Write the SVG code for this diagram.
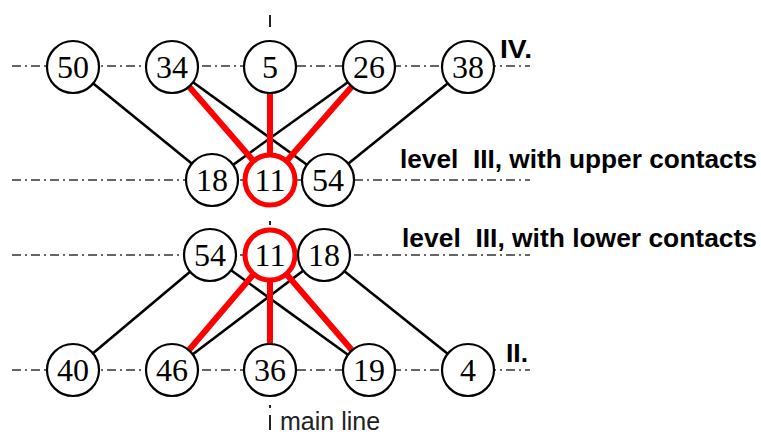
<svg xmlns="http://www.w3.org/2000/svg" width="761" height="441" viewBox="0 0 761 441">
<style>
.axis{stroke:#333;stroke-width:1.3;stroke-dasharray:9 4 2 4;fill:none}
.tick{stroke:#222;stroke-width:2;fill:none}
.blk{stroke:#000;stroke-width:2.6;fill:none}
.red{stroke:#f00;stroke-width:6;fill:none}
.node circle{fill:#fff;stroke:#000;stroke-width:2.2}
.node.hot circle{stroke:#f00;stroke-width:5}
.node text{font-family:"Liberation Serif","Times New Roman",serif;font-size:32px;text-anchor:middle;fill:#000}
.lbl{font-family:"Liberation Sans",Arial,sans-serif;font-weight:bold;font-size:25px;fill:#000;white-space:pre}
.ml{font-family:"Liberation Sans",Arial,sans-serif;font-size:25px;fill:#222}
</style>
<rect width="761" height="441" fill="#fff"/>
<g id="axes">
<line class="axis" x1="12" y1="66" x2="530" y2="66"/>
<line class="axis" x1="12" y1="180" x2="530" y2="180"/>
<line class="axis" x1="12" y1="255" x2="530" y2="255"/>
<line class="axis" x1="12" y1="370" x2="530" y2="370"/>
<line class="tick" x1="270" y1="15" x2="270" y2="27"/>
<line class="tick" x1="270" y1="221" x2="270" y2="225"/>
<line class="tick" x1="270" y1="405" x2="270" y2="408"/>
<line class="tick" x1="270" y1="415" x2="270" y2="430"/>
</g>
<g id="connectors">
<line class="blk" x1="73" y1="67" x2="212" y2="180"/>
<line class="blk" x1="172" y1="67" x2="328" y2="180"/>
<line class="blk" x1="369" y1="67" x2="212" y2="180"/>
<line class="blk" x1="468" y1="67" x2="328" y2="180"/>
<line class="blk" x1="210" y1="255" x2="73" y2="370"/>
<line class="blk" x1="210" y1="255" x2="369" y2="370"/>
<line class="blk" x1="324" y1="255" x2="172" y2="370"/>
<line class="blk" x1="324" y1="255" x2="468" y2="370"/>
<line class="red" x1="172" y1="67" x2="270" y2="180"/>
<line class="red" x1="270" y1="67" x2="270" y2="180"/>
<line class="red" x1="369" y1="67" x2="270" y2="180"/>
<line class="red" x1="270" y1="255" x2="172" y2="370"/>
<line class="red" x1="270" y1="255" x2="270" y2="370"/>
<line class="red" x1="270" y1="255" x2="369" y2="370"/>
</g>
<g id="n50" class="node"><circle cx="73" cy="67" r="26"/><text x="73" y="78">50</text></g>
<g id="n34" class="node"><circle cx="172" cy="67" r="26"/><text x="172" y="78">34</text></g>
<g id="n5" class="node"><circle cx="270" cy="67" r="26"/><text x="270" y="78">5</text></g>
<g id="n26" class="node"><circle cx="369" cy="67" r="26"/><text x="369" y="78">26</text></g>
<g id="n38" class="node"><circle cx="468" cy="67" r="26"/><text x="468" y="78">38</text></g>
<g id="u18" class="node"><circle cx="212" cy="180" r="26"/><text x="212" y="191">18</text></g>
<g id="u11" class="node hot"><circle cx="270" cy="180" r="25"/><text x="270" y="191">11</text></g>
<g id="u54" class="node"><circle cx="328" cy="180" r="26"/><text x="328" y="191">54</text></g>
<g id="l54" class="node"><circle cx="210" cy="255" r="26"/><text x="210" y="266">54</text></g>
<g id="l11" class="node hot"><circle cx="270" cy="255" r="25"/><text x="270" y="266">11</text></g>
<g id="l18" class="node"><circle cx="324" cy="255" r="26"/><text x="324" y="266">18</text></g>
<g id="n40" class="node"><circle cx="73" cy="370" r="26"/><text x="73" y="381">40</text></g>
<g id="n46" class="node"><circle cx="172" cy="370" r="26"/><text x="172" y="381">46</text></g>
<g id="n36" class="node"><circle cx="270" cy="370" r="26"/><text x="270" y="381">36</text></g>
<g id="n19" class="node"><circle cx="369" cy="370" r="26"/><text x="369" y="381">19</text></g>
<g id="n4" class="node"><circle cx="468" cy="370" r="26"/><text x="468" y="381">4</text></g>
<g id="labels">
<text class="lbl" x="500" y="58" textLength="32" lengthAdjust="spacingAndGlyphs">IV.</text>
<text class="lbl" x="400" y="168" textLength="357" lengthAdjust="spacingAndGlyphs">level  III, with upper contacts</text>
<text class="lbl" x="402" y="247" textLength="355" lengthAdjust="spacingAndGlyphs">level  III, with lower contacts</text>
<text class="lbl" x="506" y="362" textLength="22" lengthAdjust="spacingAndGlyphs">II.</text>
<text class="ml" x="280" y="430">main line</text>
</g>
</svg>
